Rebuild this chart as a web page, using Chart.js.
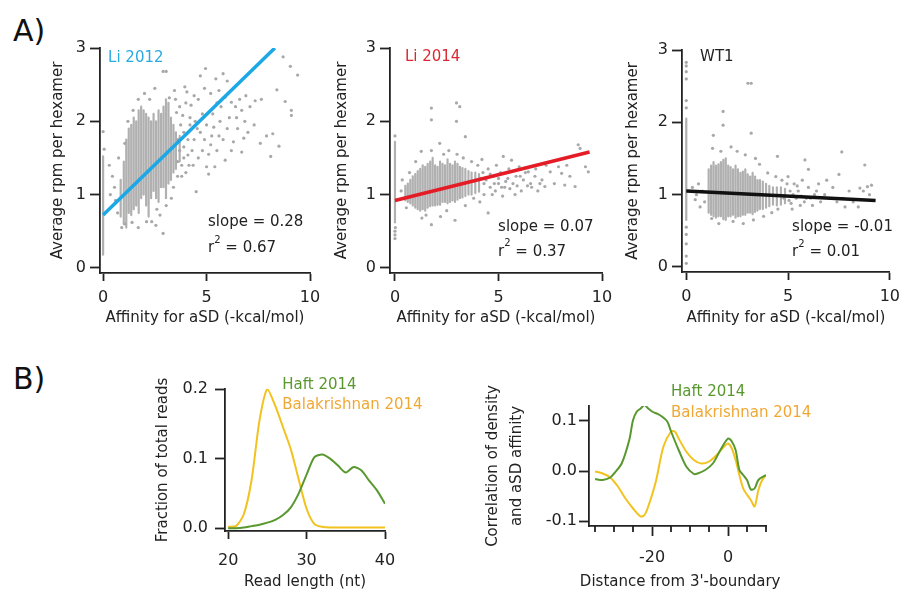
<!DOCTYPE html>
<html>
<head>
<meta charset="utf-8">
<script src="https://cdn.jsdelivr.net/npm/chart.js@4.4.1/dist/chart.umd.min.js"></script>
<style>
  html, body { margin: 0; padding: 0; background: #fff; }
  body { width: 907px; height: 595px; position: relative; overflow: hidden; font-family: "DejaVu Sans", sans-serif; }
  canvas { position: absolute; }
  .tag { position: absolute; font-size: 30px; color: #111; line-height: 1; }
</style>
</head>
<body>
<div class="tag" style="left:13px;top:16px">A)</div>
<div class="tag" style="left:13px;top:364px">B)</div>
<canvas id="li2012" width="310" height="315" style="left:25px;top:20px"></canvas>
<canvas id="li2014" width="307" height="315" style="left:320px;top:20px"></canvas>
<canvas id="wt1" width="297" height="315" style="left:610px;top:20px"></canvas>
<canvas id="readLen" width="300" height="235" style="left:140px;top:360px"></canvas>
<canvas id="corr" width="360" height="235" style="left:470px;top:360px"></canvas>
<script>
// ---- panel A: affinity vs. average rpm per hexamer ----
const affinityTicks = [0, 5, 10];
const rpmTicks = [0, 1, 2, 3];

// dense vertical runs of points: [x, lowest y, highest y]
const li2012Streaks = [
  [0, 0.18, 1.52], [0.85, 0.7, 1.2], [1.0, 0.6, 1.45], [1.12, 0.55, 1.75], [1.24, 0.75, 1.9],
  [1.36, 0.72, 1.95], [1.48, 0.8, 2.05], [1.6, 0.85, 2.0], [1.72, 0.75, 2.15], [1.84, 0.95, 2.2],
  [1.96, 1.0, 2.15], [2.08, 0.85, 2.1], [2.2, 0.7, 2.05], [2.32, 0.95, 2.0], [2.44, 1.05, 2.1],
  [2.56, 0.95, 2.0], [2.68, 0.9, 2.15], [2.8, 1.1, 2.1], [2.92, 1.1, 2.2], [3.04, 0.95, 2.3],
  [3.16, 1.15, 2.25], [3.28, 1.2, 2.05], [3.4, 1.3, 1.95], [3.52, 1.35, 1.85], [3.7, 1.45, 1.8]
];
const li2012Points = [
  [0, 1.86], [0.05, 1.62], [0.3, 1.4], [0.45, 1.25], [0.55, 1.1], [0.35, 1.0], [0.6, 0.92], [0.75, 1.5],
  [0.7, 0.75], [0.9, 0.55], [1.05, 0.6], [1.4, 0.62], [1.7, 0.55], [2.1, 0.63], [2.35, 0.63], [2.55, 0.58],
  [2.9, 0.47], [2.6, 0.8], [2.75, 0.72], [3.05, 0.85], [3.3, 0.95], [1.05, 1.7], [1.2, 2.0], [1.45, 2.15],
  [1.7, 2.3], [2.0, 2.38], [2.25, 2.3], [2.5, 2.45], [2.9, 2.68], [3.05, 2.68], [3.2, 2.32], [3.45, 2.42],
  [3.7, 2.2], [3.55, 2.12], [3.85, 2.08], [3.95, 2.47], [4.05, 2.4], [4.25, 2.22], [4.6, 2.3], [4.7, 2.62],
  [4.95, 2.72], [4.9, 2.45], [5.2, 2.38], [5.45, 2.58], [5.6, 2.42], [5.8, 2.65], [5.9, 2.33], [6.0, 2.55],
  [6.2, 2.26], [6.4, 2.2], [6.45, 2.05], [6.7, 2.15], [6.85, 2.0], [6.9, 2.35], [7.1, 2.2], [7.35, 2.28],
  [7.65, 2.3], [8.4, 2.43], [8.7, 2.88], [8.8, 2.27], [9.05, 2.75], [9.1, 2.15], [9.1, 2.08], [9.4, 2.63],
  [8.2, 1.83], [7.9, 1.8], [8.5, 1.66], [8.1, 1.52], [7.6, 1.7], [7.3, 1.95], [7.0, 1.85], [6.8, 1.77],
  [6.7, 1.58], [6.5, 1.9], [6.3, 1.72], [6.2, 1.6], [6.0, 1.9], [5.9, 1.47], [5.65, 2.0], [5.7, 2.2],
  [5.6, 1.8], [5.4, 1.38], [5.35, 1.92], [5.3, 2.1], [5.2, 1.68], [5.1, 1.28], [5.0, 1.38], [5.0, 1.95],
  [4.8, 1.6], [4.7, 1.85], [4.6, 1.5], [4.5, 1.04], [4.4, 1.75], [4.35, 1.4], [4.1, 1.54], [4.1, 1.75],
  [4.0, 1.3], [3.9, 1.65], [3.8, 1.25], [3.75, 1.95], [3.6, 1.45], [3.7, 1.6], [4.2, 1.95], [4.45, 2.0],
  [4.8, 2.1], [5.5, 2.25], [3.9, 1.85], [3.6, 1.75], [4.3, 1.6], [4.9, 1.75], [5.1, 1.55], [5.8, 1.75],
  [6.1, 2.05], [6.6, 2.3], [5.5, 1.6], [4.2, 2.05], [3.5, 2.3], [3.4, 1.1], [3.6, 1.25], [3.8, 1.4],
  [4.0, 2.25], [4.4, 2.35], [3.9, 1.5], [4.15, 1.4], [4.55, 1.9], [5.25, 1.8]
];
const li2012Fit = [[0, 0.72], [8.3, 3.0]];

const li2014Streaks = [
  [0, 0.62, 1.72], [0.5, 0.92, 1.12], [0.62, 0.9, 1.15], [0.74, 0.88, 1.2], [0.86, 0.85, 1.25],
  [0.98, 0.82, 1.28], [1.1, 0.8, 1.32], [1.22, 0.78, 1.35], [1.34, 0.8, 1.4], [1.46, 0.78, 1.38],
  [1.58, 0.82, 1.42], [1.7, 0.84, 1.45], [1.82, 0.85, 1.5], [1.94, 0.85, 1.4], [2.06, 0.86, 1.38],
  [2.18, 0.86, 1.45], [2.3, 0.9, 1.42], [2.42, 0.9, 1.4], [2.54, 0.88, 1.48], [2.66, 0.9, 1.42],
  [2.78, 0.92, 1.4], [2.9, 0.9, 1.45], [3.02, 0.93, 1.42], [3.14, 0.95, 1.38], [3.26, 0.96, 1.36],
  [3.4, 0.98, 1.35], [3.55, 1.0, 1.32], [3.7, 1.0, 1.3], [3.88, 1.02, 1.3], [4.06, 1.04, 1.28]
];
const li2014Points = [
  [0, 0.5], [0, 0.45], [0, 0.4], [0, 1.8], [0.02, 0.55], [0.3, 1.05], [0.4, 0.95], [0.35, 1.2],
  [0.55, 0.82], [0.7, 1.3], [1.0, 1.45], [1.27, 1.59], [1.76, 1.6], [1.76, 2.18], [1.76, 2.02], [2.16, 1.7],
  [2.97, 2.25], [3.13, 2.2], [2.97, 2.0], [3.4, 1.79], [1.3, 0.68], [1.76, 0.59], [1.5, 0.72], [2.2, 0.7],
  [2.9, 0.65], [2.5, 0.78], [3.4, 0.85], [4.5, 0.75], [2.6, 1.6], [2.35, 1.55], [3.0, 1.55], [3.3, 1.5],
  [3.7, 1.45], [4.0, 1.4], [4.2, 1.48], [4.4, 1.2], [4.5, 1.35], [4.6, 1.1], [4.75, 1.25], [4.9, 1.4],
  [5.0, 1.15], [5.1, 1.3], [5.23, 1.52], [5.3, 1.1], [5.45, 1.22], [5.5, 1.35], [5.63, 1.47], [5.7, 1.15],
  [5.85, 1.25], [6.0, 1.38], [6.1, 1.05], [6.2, 1.2], [6.3, 1.3], [6.44, 1.31], [6.55, 1.15], [6.76, 1.25],
  [6.9, 1.05], [7.1, 1.2], [7.24, 1.11], [7.5, 1.31], [7.9, 1.38], [8.05, 1.29], [8.2, 1.13], [8.45, 1.25],
  [8.7, 1.11], [8.85, 1.68], [8.94, 1.63], [9.2, 1.38], [9.34, 1.31], [4.3, 1.0], [4.85, 1.05], [5.2, 0.98],
  [3.8, 0.95], [4.1, 0.9], [5.8, 1.0], [6.6, 1.1], [7.7, 1.15], [8.3, 1.4], [7.3, 1.4], [4.3, 1.15],
  [4.6, 1.28], [5.0, 1.22], [5.35, 1.18], [5.9, 1.12], [4.15, 1.22], [4.7, 1.0], [4.25, 1.3], [4.8, 1.15],
  [5.15, 1.1], [5.55, 1.08], [6.05, 1.25], [6.4, 1.12], [6.8, 1.35], [7.0, 1.15]
];
const li2014Fit = [[0, 0.92], [9.4, 1.58]];

const wt1Streaks = [
  [0, 0.65, 2.05], [1.1, 0.75, 1.35], [1.22, 0.72, 1.4], [1.34, 0.7, 1.45], [1.46, 0.68, 1.4],
  [1.58, 0.7, 1.42], [1.7, 0.7, 1.45], [1.82, 0.66, 1.48], [1.94, 0.65, 1.5], [2.06, 0.7, 1.4],
  [2.18, 0.7, 1.38], [2.3, 0.72, 1.35], [2.42, 0.68, 1.4], [2.54, 0.7, 1.35], [2.66, 0.7, 1.3],
  [2.78, 0.72, 1.32], [2.9, 0.72, 1.35], [3.02, 0.75, 1.28], [3.14, 0.75, 1.25], [3.26, 0.73, 1.3],
  [3.38, 0.76, 1.25], [3.5, 0.78, 1.2], [3.62, 0.8, 1.2], [3.76, 0.8, 1.18], [3.92, 0.82, 1.15],
  [4.08, 0.84, 1.12], [4.26, 0.86, 1.1], [4.45, 0.85, 1.1], [4.65, 0.86, 1.1], [4.85, 0.88, 1.08]
];
const wt1Points = [
  [0, 2.83], [0, 2.78], [0, 2.7], [0, 2.6], [0, 2.3], [0, 2.2], [0, 0.55], [0, 0.45], [0, 0.32],
  [0, 0.15], [0, 0.05], [0.3, 1.1], [0.44, 0.93], [0.5, 1.0], [0.68, 0.83], [0.8, 1.05], [0.9, 0.9],
  [0.6, 1.15], [1.81, 2.15], [1.81, 1.96], [3.03, 2.54], [3.19, 2.54], [3.19, 1.85], [1.33, 1.82],
  [1.29, 1.64], [2.2, 1.66], [1.7, 1.6], [2.5, 1.6], [2.9, 1.55], [3.4, 1.5], [3.6, 1.42], [4.48, 1.53],
  [5.83, 1.48], [7.64, 1.59], [8.77, 1.41], [1.25, 0.67], [1.6, 0.6], [2.3, 0.63], [2.8, 0.6], [3.3, 0.65],
  [3.8, 0.7], [4.2, 0.75], [4.5, 0.8], [4.0, 1.3], [4.4, 1.25], [4.7, 1.2], [5.0, 1.25], [5.2, 0.8],
  [5.3, 1.15], [5.4, 0.95], [5.5, 1.05], [5.6, 0.85], [5.7, 1.2], [5.9, 0.95], [6.0, 1.1], [6.2, 0.85],
  [6.3, 1.0], [6.5, 1.15], [6.6, 0.9], [6.8, 1.0], [7.0, 0.95], [7.2, 1.1], [7.4, 0.9], [7.5, 1.28],
  [7.7, 0.95], [7.8, 0.83], [8.0, 1.05], [8.2, 0.9], [8.45, 0.83], [8.53, 1.09], [8.7, 1.05], [8.9, 1.11],
  [9.0, 1.0], [9.1, 1.13], [6.0, 1.35], [5.1, 1.05], [4.8, 0.95], [6.9, 1.2], [5.8, 0.9], [5.05, 0.92],
  [5.25, 1.0], [5.45, 1.12], [5.65, 0.98], [6.1, 0.95], [6.4, 1.05], [4.95, 1.15], [5.15, 0.88]
];
const wt1Fit = [[0, 1.05], [9.3, 0.92]];

// ---- panel B left: read length distribution ----
const readLength = [20, 21, 22, 23, 24, 25, 26, 27, 28, 29, 30, 31, 32, 33, 34, 35, 36, 37, 38, 39, 40];
const haftReads = [0, 0, 0.001, 0.003, 0.005, 0.008, 0.012, 0.019, 0.03, 0.05, 0.077, 0.102, 0.106, 0.1, 0.09, 0.08, 0.088, 0.083, 0.068, 0.054, 0.035];
const balaReads = [0.002, 0.003, 0.02, 0.07, 0.155, 0.2, 0.176, 0.145, 0.113, 0.07, 0.028, 0.006, 0.002, 0.001, 0.001, 0.001, 0.001, 0.001, 0.001, 0.001, 0.001];
const lengthTicks = [20, 30, 40];
const fractionTicks = [0, 0.1, 0.2];

// ---- panel B right: correlation vs distance from 3'-boundary ----
const haftDist = [-35, -33, -31, -30, -28, -26, -25, -24, -23, -22, -21, -20, -18, -16, -15, -13, -11, -9, -8, -6, -4, -2, 0, 1, 2, 3, 4, 5, 6, 7, 8, 10];
const haftCorr = [-0.016, -0.018, -0.013, -0.005, 0.015, 0.062, 0.102, 0.119, 0.125, 0.132, 0.125, 0.119, 0.112, 0.099, 0.079, 0.042, 0.009, -0.006, -0.005, 0.002, 0.015, 0.042, 0.065, 0.059, 0.042, 0.002, -0.008, -0.018, -0.037, -0.035, -0.018, -0.008];
const balaDist = [-35, -33, -31, -29, -27, -25, -23, -22, -21, -19, -17, -15, -14, -13, -11, -9, -7, -5, -3, -1, 0, 1, 2, 4, 6, 7, 8, 9, 10];
const balaCorr = [-0.001, -0.005, -0.013, -0.031, -0.055, -0.075, -0.091, -0.088, -0.071, -0.021, 0.049, 0.079, 0.079, 0.065, 0.039, 0.022, 0.015, 0.019, 0.032, 0.049, 0.055, 0.045, 0.022, -0.035, -0.058, -0.071, -0.038, -0.018, -0.008];
const distanceTicks = [-20, 0];
const distanceMinor = [-35, -30, -25, -15, -10, -5, 5, 10];
const corrTicks = [-0.1, 0, 0.1];

const ink = '#222';
const face = '"DejaVu Sans", sans-serif';
const dotGray = 'rgb(168,168,168)';
const cloudGray = 'rgb(176,176,176)';
const haftGreen = 'rgb(88,152,46)';
const balaYellow = 'rgb(242,194,30)';
const balaText = 'rgb(240,168,52)';

// text labels placed in data units
const notesPlugin = {
  id: 'notes',
  afterDatasetsDraw(chart, args, opts) {
    const { ctx } = chart;
    const xs = chart.scales.x, ys = chart.scales.y;
    (opts.items || []).forEach(n => {
      let px = xs.getPixelForValue(n.x);
      const py = ys.getPixelForValue(n.y);
      const font = (n.size || 15) + 'px ' + face;
      ctx.save();
      ctx.textBaseline = 'middle';
      ctx.textAlign = n.align || 'left';
      ctx.fillStyle = n.color || ink;
      ctx.font = font;
      ctx.fillText(n.text, px, py);
      if (n.sup) {
        px += ctx.measureText(n.text).width;
        ctx.font = '10px ' + face;
        ctx.fillText(n.sup, px, py - 8);
        px += ctx.measureText(n.sup).width;
        ctx.font = font;
        ctx.fillText(n.rest, px, py);
      }
      ctx.restore();
    });
  }
};

// short unlabeled ticks under the x axis
const minorTicksPlugin = {
  id: 'minorTicks',
  afterDraw(chart, args, opts) {
    if (!opts.values) return;
    const { ctx, chartArea } = chart;
    const xs = chart.scales.x;
    ctx.save();
    ctx.strokeStyle = ink;
    ctx.lineWidth = 1.8;
    opts.values.forEach(v => {
      const px = Math.round(xs.getPixelForValue(v));
      ctx.beginPath();
      ctx.moveTo(px, chartArea.bottom);
      ctx.lineTo(px, chartArea.bottom + opts.length);
      ctx.stroke();
    });
    ctx.restore();
  }
};
Chart.register(notesPlugin, minorTicksPlugin);

function axis(o) {
  return {
    type: 'linear',
    min: o.min,
    max: o.max,
    border: { display: true, color: ink, width: 1.8 },
    grid: { display: true, drawOnChartArea: false, drawTicks: true, tickLength: o.tick, tickWidth: 1.8, tickColor: ink },
    ticks: { color: ink, font: { family: face, size: 16 }, padding: o.pad, callback: o.fmt || (v => String(v)) },
    afterBuildTicks: s => { s.ticks = o.ticks.map(v => ({ value: v })); },
    afterFit: s => {
      if (o.width) s.width = o.width;
      if (o.height) s.height = o.height;
    },
    title: {
      display: !!o.title, text: o.title, color: ink,
      font: { family: face, size: 15, lineHeight: o.lh || 1.2 },
      padding: { top: o.tpad, bottom: o.tpad }
    }
  };
}

function streakData(streaks) {
  return streaks.flatMap(([x, lo, hi]) => [{ x: x, y: lo }, { x: x, y: hi }, { x: x, y: null }]);
}
function pairData(pairs) {
  return pairs.map(([x, y]) => ({ x: x, y: y }));
}

function scatterPanel(id, streaks, points, fit, fitColor, xMin, pad, yWidth, yTitlePad, notes) {
  new Chart(document.getElementById(id), {
    type: 'scatter',
    data: {
      datasets: [{
        data: pairData(fit), showLine: true, borderColor: fitColor, borderWidth: 3.5,
        pointRadius: 0, order: 0
      }, {
        data: pairData(points), pointRadius: 1.6, pointBackgroundColor: dotGray, pointBorderWidth: 0, order: 1
      }, {
        data: streakData(streaks), showLine: true, spanGaps: false, borderColor: cloudGray, borderWidth: 2.2,
        borderCapStyle: 'round', pointRadius: 0, order: 2
      }]
    },
    options: {
      responsive: false,
      animation: false,
      layout: { padding: { top: pad.top, right: pad.right, left: 0, bottom: 0 } },
      scales: {
        x: axis({ min: xMin, max: 10, ticks: affinityTicks, tick: 8, pad: 7, height: pad.xh,
          title: 'Affinity for aSD (-kcal/mol)', tpad: 8 }),
        y: axis({ min: -0.07, max: 3, ticks: rpmTicks, tick: 10, pad: 4, width: yWidth,
          title: 'Average rpm per hexamer', tpad: yTitlePad })
      },
      plugins: { legend: { display: false }, tooltip: { enabled: false }, notes: { items: notes } }
    }
  });
}

function panelA() {
  scatterPanel('li2012', li2012Streaks, li2012Points, li2012Fit, 'rgb(28,168,230)', -0.15,
    { top: 28, right: 25, xh: 62 }, 75, 24, [
      { text: 'Li 2012', x: 0.24, y: 2.86, color: 'rgb(41,171,226)' },
      { text: 'slope = 0.28', x: 5.07, y: 0.63 },
      { text: 'r', sup: '2', rest: ' = 0.67', x: 5.07, y: 0.27 }
    ]);
  scatterPanel('li2014', li2014Streaks, li2014Points, li2014Fit, 'rgb(228,28,38)', -0.24,
    { top: 28, right: 25, xh: 62 }, 70, 13, [
      { text: 'Li 2014', x: 0.48, y: 2.88, color: 'rgb(220,40,50)' },
      { text: 'slope = 0.07', x: 4.98, y: 0.56 },
      { text: 'r', sup: '2', rest: ' = 0.37', x: 4.98, y: 0.22 }
    ]);
  scatterPanel('wt1', wt1Streaks, wt1Points, wt1Fit, '#111', -0.21,
    { top: 30, right: 15, xh: 63 }, 72, 14, [
      { text: 'WT1', x: 0.68, y: 2.9 },
      { text: 'slope = -0.01', x: 5.2, y: 0.55 },
      { text: 'r', sup: '2', rest: ' = 0.01', x: 5.2, y: 0.2 }
    ]);
}

function panelB() {
  new Chart(document.getElementById('readLen'), {
    type: 'scatter',
    data: {
      datasets: [{
        data: readLength.map((x, i) => ({ x: x, y: haftReads[i] })), showLine: true,
        borderColor: haftGreen, borderWidth: 2, pointRadius: 0, tension: 0.25
      }, {
        data: readLength.map((x, i) => ({ x: x, y: balaReads[i] })), showLine: true,
        borderColor: balaYellow, borderWidth: 2, pointRadius: 0, tension: 0.25
      }]
    },
    options: {
      responsive: false,
      animation: false,
      layout: { padding: { top: 29, right: 55, left: 0, bottom: 0 } },
      scales: {
        x: axis({ min: 19.6, max: 40, ticks: lengthTicks, tick: 8, pad: 12, height: 64,
          title: 'Read length (nt)', tpad: 4 }),
        y: axis({ min: -0.004, max: 0.2, ticks: fractionTicks, tick: 10, pad: 7, width: 85,
          title: 'Fraction of total reads', tpad: 14, fmt: v => v.toFixed(1) })
      },
      plugins: {
        legend: { display: false }, tooltip: { enabled: false },
        notes: { items: [
          { text: 'Haft 2014', x: 26.9, y: 0.206, color: haftGreen },
          { text: 'Balakrishnan 2014', x: 26.9, y: 0.177, color: balaText }
        ] }
      }
    }
  });

  new Chart(document.getElementById('corr'), {
    type: 'scatter',
    data: {
      datasets: [{
        data: haftDist.map((x, i) => ({ x: x, y: haftCorr[i] })), showLine: true,
        borderColor: haftGreen, borderWidth: 2, pointRadius: 0, tension: 0.3
      }, {
        data: balaDist.map((x, i) => ({ x: x, y: balaCorr[i] })), showLine: true,
        borderColor: balaYellow, borderWidth: 2, pointRadius: 0, tension: 0.3
      }]
    },
    options: {
      responsive: false,
      animation: false,
      layout: { padding: { top: 46, right: 64, left: 0, bottom: 0 } },
      scales: {
        x: axis({ min: -36.6, max: 10, ticks: distanceTicks, tick: 10, pad: 12, height: 69 }),
        y: axis({ min: -0.11, max: 0.13, ticks: corrTicks, tick: 10, pad: 2, width: 119,
          title: ['Correlation of density', 'and aSD affinity'], lh: 1.6, tpad: 11, fmt: v => v.toFixed(1) })
      },
      plugins: {
        legend: { display: false }, tooltip: { enabled: false },
        minorTicks: { values: distanceMinor, length: 6 },
        notes: { items: [
          { text: 'Haft 2014', x: -15.0, y: 0.158, color: haftGreen },
          { text: 'Balakrishnan 2014', x: -15.0, y: 0.116, color: balaText },
          { text: "Distance from 3'-boundary", x: -12.6, y: -0.222, align: 'center' }
        ] }
      }
    }
  });
}

document.addEventListener('DOMContentLoaded', () => {
  panelA();
  panelB();
});
</script>
</body>
</html>
